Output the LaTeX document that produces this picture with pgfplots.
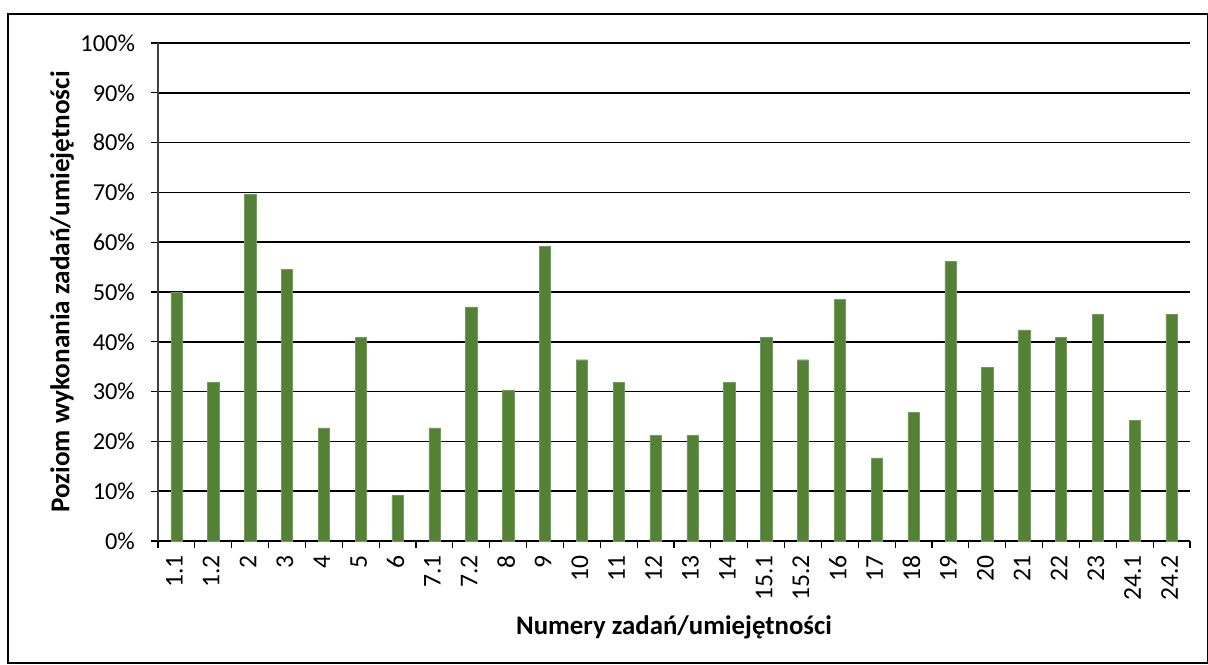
\documentclass[border=0pt]{standalone}
\usepackage{pgfplots}
\pgfplotsset{compat=1.18}
\usepackage{fontspec}
\setmainfont{Carlito}
\definecolor{barg}{RGB}{83,129,53}
\begin{document}
\begin{tikzpicture}
\useasboundingbox (-79pt,-61.5pt) rectangle (525pt,270.5pt);
\draw[line width=0.6pt] (-75pt,-61pt) rectangle (524.6pt,263.5pt);
\begin{axis}[
  at={(0pt,0pt)}, anchor=south west,
  scale only axis,
  width=516pt, height=249pt,
  xmin=-0.5, xmax=27.5,
  ymin=0, ymax=100,
  axis x line=bottom, axis y line=left,
  axis line style={-, line width=0.6pt},
  x axis line style={black},
  y axis line style={black!75},
  font=\fontsize{12}{14}\selectfont,
  ytick={0,10,...,100},
  yticklabels={0\%,10\%,20\%,30\%,40\%,50\%,60\%,70\%,80\%,90\%,100\%},
  xtick={0,...,27},
  xticklabels={1.1,1.2,2,3,4,5,6,7.1,7.2,8,9,10,11,12,13,14,15.1,15.2,16,17,18,19,20,21,22,23,24.1,24.2},
  minor xtick={-0.5,0.5,...,27.5},
  major x tick style={draw=none},
  minor x tick style={black, line width=0.6pt},
  y tick style={black, line width=0.6pt},
  tick align=outside,
  major tick length=3.5pt, minor tick length=3.5pt,
  xticklabel style={rotate=90, anchor=east, yshift=1pt, font=\fontsize{12.8}{14}\selectfont},
  yticklabel style={xshift=-4.5pt, font=\fontsize{12.2}{14}\selectfont},
  ymajorgrids,
  grid style={black, line width=0.75pt},
  xlabel={\textbf{Numery zadań/umiejętności}},
  ylabel={\textbf{Poziom wykonania zadań/umiejętności}},
  every axis x label/.style={at={(axis description cs:0.5,-0.173)}, anchor=center, font=\fontsize{13.4}{16}\selectfont},
  every axis y label/.style={at={(axis description cs:-0.093,0.5)}, anchor=center, rotate=90, font=\fontsize{13.6}{16}\selectfont},
  clip=false,
]
\addplot[ybar, bar width=5.65pt, fill=barg, draw=barg!80!white, line width=0.2pt] coordinates {
(0,50.0) (1,31.8) (2,69.7) (3,54.5) (4,22.7) (5,40.9) (6,9.1) (7,22.7) (8,47.0) (9,30.3)
(10,59.1) (11,36.4) (12,31.8) (13,21.2) (14,21.2) (15,31.8) (16,40.9) (17,36.4) (18,48.5) (19,16.7)
(20,25.8) (21,56.1) (22,34.8) (23,42.4) (24,40.9) (25,45.5) (26,24.2) (27,45.5)
};
\end{axis}
\end{tikzpicture}
\end{document}
